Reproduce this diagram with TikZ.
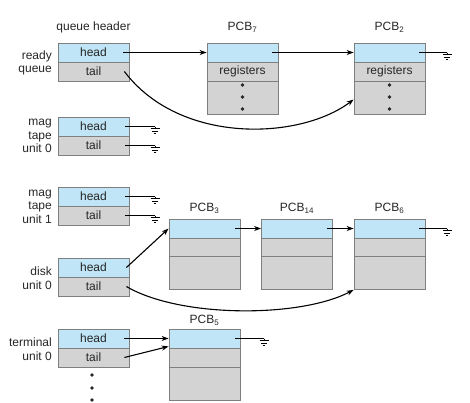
\documentclass[tikz,border=0pt]{standalone}
\usepackage{fontspec}
\setmainfont{Liberation Sans}
\usetikzlibrary{arrows.meta}
\definecolor{cellblue}{HTML}{BFE5F6}
\definecolor{cellgray}{HTML}{D3D3D3}
\definecolor{celledge}{HTML}{7F7F7F}
\definecolor{ink}{HTML}{262626}

\begin{document}
\begin{tikzpicture}[x=1pt,y=-1pt,
    cell/.style={draw=celledge,line width=0.8pt,minimum width=71pt,minimum height=19pt,
      inner sep=0pt,text=ink,font=\fontsize{12}{14}\selectfont},
    bluecell/.style={cell,fill=cellblue},
    graycell/.style={cell,fill=cellgray},
    bigcell/.style={graycell,minimum height=33pt},
    sidelabel/.style={font=\fontsize{12}{13.5}\selectfont,text=ink,align=right,anchor=east,inner sep=0pt},
    title/.style={font=\fontsize{12}{14}\selectfont,text=ink,inner sep=0pt},
    ptr/.style={line width=1.1pt,-{Stealth[length=7pt,width=5pt]}},
    nil/.style={line width=1.1pt},
    ground/.pic={\draw[line width=0.9pt] (0pt,0pt) -- (0pt,-2pt)
      (-4.5pt,-2pt) -- (4.5pt,-2pt) (-3pt,-4.5pt) -- (3pt,-4.5pt) (-1.2pt,-7pt) -- (1.2pt,-7pt);}]

      \useasboundingbox (0,0) rectangle (470,402);

      % titles over the columns
      \node[title] (qhdr) at (93.5,27) {queue header};
      \node[title] (t7) at (242.5,27) {PCB\textsubscript{7}};
      \node[title] (t2) at (389.5,27) {PCB\textsubscript{2}};
      \node[title] (t3) at (204.5,208) {PCB\textsubscript{3}};
      \node[title] (t14) at (297,208) {PCB\textsubscript{14}};
      \node[title] (t6) at (389.5,208) {PCB\textsubscript{6}};
      \node[title] (t5) at (204.5,320) {PCB\textsubscript{5}};

      % names of the queues
      \node[sidelabel] (lready) at (52,63) {ready\\queue};
      \node[sidelabel] (lmtz) at (52,136) {mag\\tape\\unit 0};
      \node[sidelabel] (lmto) at (52,206.5) {mag\\tape\\unit 1};
      \node[sidelabel] (ldisk) at (52,278) {disk\\unit 0};
      \node[sidelabel] (lterm) at (52,349) {terminal\\unit 0};

      % queue headers: head on top, tail below
      \node[bluecell] (rqhead) at (93.5,52.5) {head};
      \node[graycell] (rqtail) at (93.5,71.5) {tail};
      \node[bluecell] (mtzhead) at (93.5,126.5) {head};
      \node[graycell] (mtztail) at (93.5,145.5) {tail};
      \node[bluecell] (mtohead) at (93.5,196.5) {head};
      \node[graycell] (mtotail) at (93.5,215.5) {tail};
      \node[bluecell] (dhead) at (93.5,267.5) {head};
      \node[graycell] (dtail) at (93.5,286.5) {tail};
      \node[bluecell] (thead) at (93.5,338.5) {head};
      \node[graycell] (ttail) at (93.5,357.5) {tail};

      % PCB7 and PCB2 in the ready queue
      \node[bluecell] (p7a) at (242.5,52.5) {};
      \node[graycell] (p7b) at (242.5,71.5) {registers};
      \node[bigcell] (p7c) at (242.5,97.5) {};
      \node[bluecell] (p2a) at (389.5,52.5) {};
      \node[graycell] (p2b) at (389.5,71.5) {registers};
      \node[bigcell] (p2c) at (389.5,97.5) {};
      \foreach \y in {85,97,109} {
        \fill[ink] (242.5,\y) circle (1.8pt);
        \fill[ink] (389.5,\y) circle (1.8pt);
      }

      % PCB3, PCB14, PCB6 waiting on the disk
      \node[bluecell] (p3a) at (204.5,228.5) {};
      \node[graycell] (p3b) at (204.5,247.5) {};
      \node[bigcell] (p3c) at (204.5,273) {};
      \node[bluecell] (p14a) at (297,228.5) {};
      \node[graycell] (p14b) at (297,247.5) {};
      \node[bigcell] (p14c) at (297,273) {};
      \node[bluecell] (p6a) at (389.5,228.5) {};
      \node[graycell] (p6b) at (389.5,247.5) {};
      \node[bigcell] (p6c) at (389.5,273) {};

      % PCB5 on the terminal
      \node[bluecell] (p5a) at (204.5,338.5) {};
      \node[graycell] (p5b) at (204.5,357.5) {};
      \node[bigcell] (p5c) at (204.5,383.5) {};

      % more queues below
      \foreach \y in {375,388,400}
        \fill[ink] (92,\y) circle (1.8pt);

      % ends of the lists
      \coordinate (gp2) at (447,52.5);
      \coordinate (gmtzh) at (155,126.5);
      \coordinate (gmtzt) at (155,145.5);
      \coordinate (gmtoh) at (155,196.5);
      \coordinate (gmtot) at (155,215.5);
      \coordinate (gp6) at (447,228.5);
      \coordinate (gp5) at (264,338.5);

      % ready queue
      \draw[ptr] ([xshift=-6pt]rqhead.east) -- (p7a.west);
      \draw[ptr] ([xshift=-6pt]p7a.east) -- (p2a.west);
      \draw[nil] ([xshift=-6pt]p2a.east) -- (gp2) pic {ground};
      \draw[ptr] ([xshift=-5pt]rqtail.east) .. controls (180,145) and (300,140) .. ([yshift=-2pt]p2c.west);

      % empty tape queues
      \draw[nil] ([xshift=-4pt]mtzhead.east) -- (gmtzh) pic {ground};
      \draw[nil] ([xshift=-4pt]mtztail.east) -- (gmtzt) pic {ground};
      \draw[nil] ([xshift=-4pt]mtohead.east) -- (gmtoh) pic {ground};
      \draw[nil] ([xshift=-4pt]mtotail.east) -- (gmtot) pic {ground};

      % disk queue
      \draw[ptr] ([xshift=-3pt]dhead.east) -- (p3a.west);
      \draw[ptr] ([xshift=-5pt]p3a.east) -- (p14a.west);
      \draw[ptr] ([xshift=-6pt]p14a.east) -- (p6a.west);
      \draw[nil] ([xshift=-6pt]p6a.east) -- (gp6) pic {ground};
      \draw[ptr] ([xshift=-3pt]dtail.east) .. controls (180,318) and (300,318) .. (p6c.south west);

      % terminal queue
      \draw[ptr] ([xshift=-5pt]thead.east) -- (p5a.west);
      \draw[ptr] ([xshift=-5pt]ttail.east) -- ([yshift=2pt]p5a.south west);
      \draw[nil] ([xshift=-5pt]p5a.east) -- (gp5) pic {ground};

    \end{tikzpicture}
\end{document}
